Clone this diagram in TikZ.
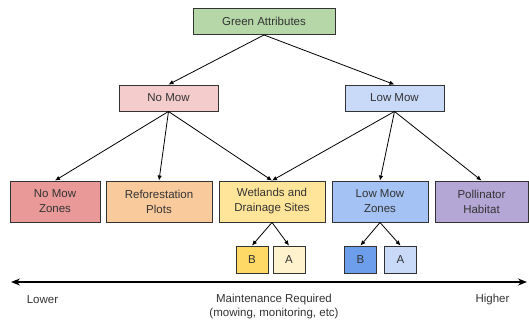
\documentclass[tikz,border=0pt]{standalone}
\usepackage{fontspec}
\setmainfont{Liberation Sans}
\usetikzlibrary{arrows.meta}
\definecolor{attrgreen}{HTML}{B6D7A8}
\definecolor{nomowpink}{HTML}{F4CCCC}
\definecolor{lowmowblue}{HTML}{C9DAF8}
\definecolor{zonered}{HTML}{EA9999}
\definecolor{forestorange}{HTML}{F9CB9C}
\definecolor{wetyellow}{HTML}{FFE599}
\definecolor{zoneblue}{HTML}{A4C2F4}
\definecolor{pollpurple}{HTML}{B4A7D6}
\definecolor{byellow}{HTML}{FFD966}
\definecolor{ayellow}{HTML}{FFF2CC}
\definecolor{bblue}{HTML}{6D9EEB}
\definecolor{ablue}{HTML}{C9DAF8}
\definecolor{inkgray}{HTML}{333333}
\tikzset{
 box/.style={draw=inkgray,line width=0.9pt,inner sep=0pt,align=center,
  text=inkgray,font=\fontsize{11.5}{15}\selectfont},
 topbox/.style={box,minimum height=26pt},
 leafbox/.style={box,minimum height=41pt},
 subbox/.style={box,minimum width=32pt,minimum height=27pt},
 link/.style={-{Latex[length=5pt,width=4.5pt]},line width=0.8pt},
 label/.style={text=inkgray,font=\fontsize{11.5}{14}\selectfont,align=center}
}
\begin{document}
\begin{tikzpicture}[x=1pt,y=-1pt]
 \useasboundingbox (0,0) rectangle (529,324);
 % top
 \node[topbox,fill=attrgreen,minimum width=142pt] (attr) at (264,21.5) {Green Attributes};
 \node[topbox,fill=nomowpink,minimum width=99pt] (nomow) at (168.5,98) {No Mow};
 \node[topbox,fill=lowmowblue,minimum width=99pt] (lowmow) at (394.5,98) {Low Mow};
 % leaves
 \node[leafbox,fill=zonered,minimum width=90pt] (nmzones) at (55,201.5) {No Mow\\Zones};
 \node[leafbox,fill=forestorange,minimum width=106pt] (forest) at (159,201.5) {Reforestation\\Plots};
 \node[leafbox,fill=wetyellow,minimum width=106pt] (wetland) at (272,201.5) {Wetlands and\\Drainage Sites};
 \node[leafbox,fill=zoneblue,minimum width=96pt] (lmzones) at (380,201.5) {Low Mow\\Zones};
 \node[leafbox,fill=pollpurple,minimum width=93pt] (pollin) at (481.5,201.5) {Pollinator\\Habitat};
 % sub boxes
 \node[subbox,fill=byellow] (wetb) at (252,259.5) {B};
 \node[subbox,fill=ayellow] (weta) at (289,259.5) {A};
 \node[subbox,fill=bblue] (lowb) at (360.5,259.5) {B};
 \node[subbox,fill=ablue] (lowa) at (400.5,259.5) {A};
 % links
 \draw[link] (attr.south) -- (nomow.north);
 \draw[link] (attr.south) -- (lowmow.north);
 \draw[link] (nomow.south) -- (nmzones.north);
 \draw[link] (nomow.south) -- (forest.north);
 \draw[link] (nomow.south) -- (wetland.north);
 \draw[link] (lowmow.south) -- (wetland.north);
 \draw[link] (lowmow.south) -- (lmzones.north);
 \draw[link] (lowmow.south) -- (pollin.north);
 \draw[link] (wetland.south) -- (wetb.north);
 \draw[link] (wetland.south) -- (weta.north);
 \draw[link] (lmzones.south) -- (lowb.north);
 \draw[link] (lmzones.south) -- (lowa.north);
 % scale
 \coordinate (lo) at (11,282);
 \coordinate (hi) at (527,282);
 \draw[{Stealth[length=9pt,width=7pt]}-{Stealth[length=9pt,width=7pt]},line width=1.3pt] (lo) -- (hi);
 \node[label] (lower) at (42.5,300) {Lower};
 \node[label] (maint) at (274,306.5) {Maintenance Required\\(mowing, monitoring, etc)};
 \node[label] (higher) at (492.5,300) {Higher};
\end{tikzpicture}
\end{document}
